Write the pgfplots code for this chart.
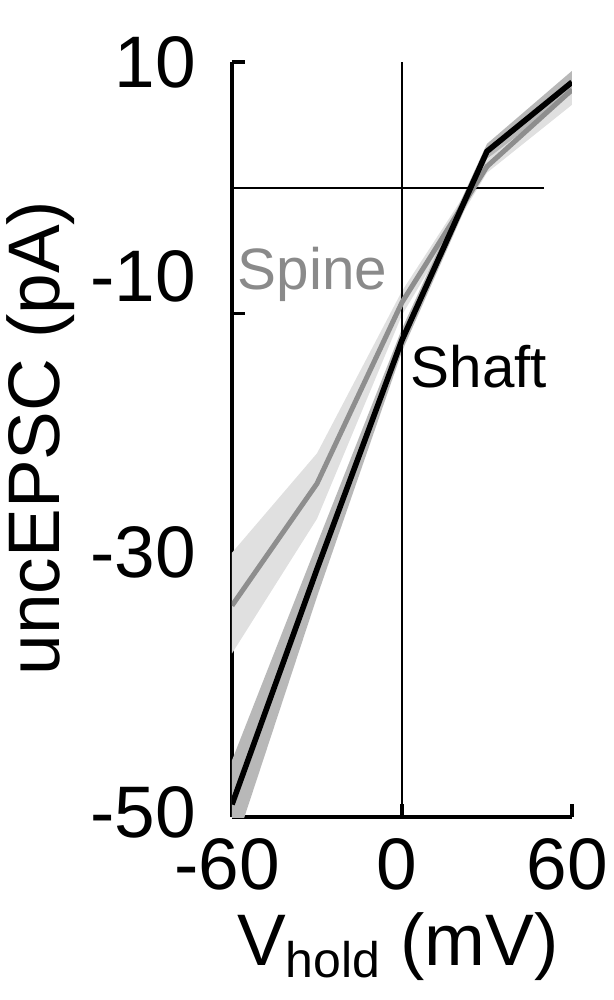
\documentclass[border=0pt]{standalone}
\usepackage{pgfplots}
\pgfplotsset{compat=1.18}
\usepackage{fontspec}
\setmainfont{Liberation Sans}
\definecolor{spineline}{HTML}{8E8E8E}
\definecolor{spinetext}{HTML}{8A8A8A}
\definecolor{spineband}{HTML}{E0E0E0}
\definecolor{shaftband}{HTML}{B8B8B8}
\begin{document}
\begin{tikzpicture}
\begin{axis}[
  name=ax,
  scale only axis, width=85pt, height=188.75pt,
  xmin=-60, xmax=60, ymin=-50, ymax=10,
  axis lines=left,
  axis line style={-, line width=0.8pt, black},
  tick align=inside,
  major tick length=3.2pt,
  tick style={black, line width=0.8pt},
  xtick={-60,0,60},
  xticklabels={-60,0,60},
  ytick={10,-10,-30,-50},
  yticklabels={,,,},
  extra y ticks={10,-7,-29,-49.6},
  extra y tick labels={10,-10,-30,-50},
  extra y tick style={major tick length=0pt},
  /pgf/number format/assume math mode=true,
  tick label style={font=\fontsize{18.25}{20}\selectfont, inner sep=0pt},
  xticklabel style={anchor=north, yshift=-5.25pt, xshift=-1.2pt},
  yticklabel style={anchor=east, xshift=-8.75pt},
  xlabel={V\raisebox{-3.2pt}{\fontsize{12.5}{13}\selectfont hold} (mV)},
  every axis x label/.style={at={(axis description cs:0.488,0)}, anchor=base, yshift=-37pt, inner sep=0pt, font=\fontsize{18.25}{20}\selectfont},
  ylabel={uncEPSC (pA)},
  every axis y label/.style={at={(axis description cs:0,0.502)}, xshift=-43pt, rotate=90, anchor=base, inner sep=0pt, font=\fontsize{18.25}{20}\selectfont},
]
% spine band (light)
\addplot[fill=spineband, draw=none, forget plot] coordinates {
  (-60,-29) (-30,-21.1) (0,-8.2) (30,2.2) (60,9.2)
  (60,6.6) (30,1.2) (0,-10.1) (-30,-26.3) (-60,-37)
};
% shaft band
\addplot[fill=shaftband, draw=none, forget plot] coordinates {
  (-60,-45.5) (-30,-28.3) (0,-11.2) (30,3.5) (60,9.3)
  (60,7.5) (30,2.3) (0,-13) (-30,-32.5) (-60,-53)
};
% zero lines
\addplot[black, line width=0.5pt, forget plot] coordinates {(-60,0) (50,0)};
\addplot[black, line width=0.5pt, forget plot] coordinates {(0,-50) (0,10)};
% spine
\addplot[spineline, line width=1.25pt] coordinates {
  (-60,-33.2) (-30,-23.5) (0,-9.1) (30,1.7) (60,7.8)
};
% shaft
\addplot[black, line width=1.4pt] coordinates {
  (-60,-49) (-30,-30.3) (0,-12.1) (30,2.9) (60,8.4)
};
\node[anchor=base west, inner sep=0pt, text=spinetext, font=\fontsize{14.6}{16}\selectfont] at (axis cs:-58.2,-8.1) {Spine};
\node[anchor=base west, inner sep=0pt, text=black, font=\fontsize{14.6}{16}\selectfont] at (axis cs:2.8,-15.9) {Shaft};
\end{axis}
\pgfresetboundingbox
\path[use as bounding box] ([shift={(-58pt,-45.75pt)}]ax.south west) rectangle ([shift={(95.25pt,204.25pt)}]ax.south west);
\end{tikzpicture}
\end{document}
